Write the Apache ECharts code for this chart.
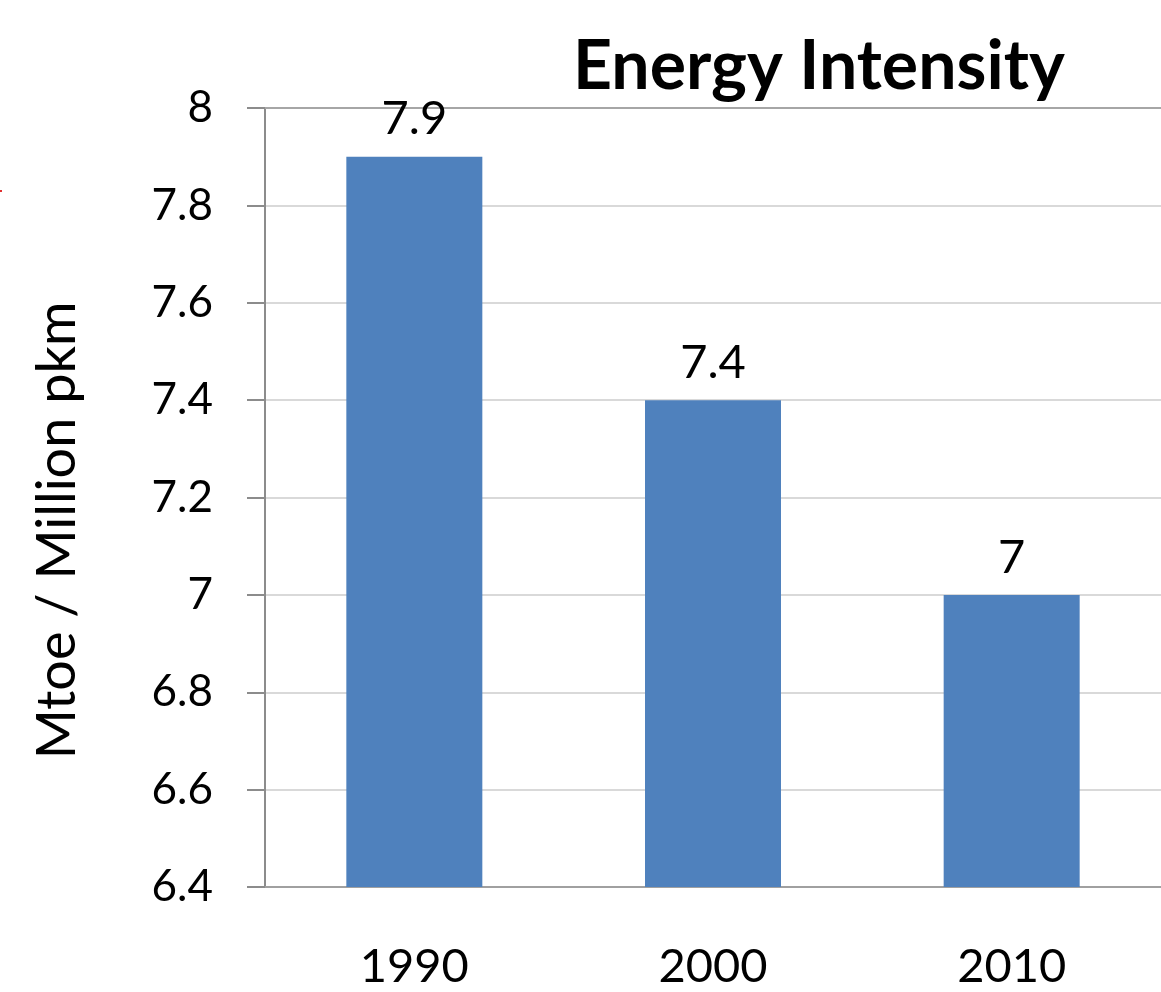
<!DOCTYPE html>
<html>
<head>
    <meta charset="utf-8">
    <title>Energy Intensity</title>
    <script src="https://cdn.jsdelivr.net/npm/echarts@6.0.0/dist/echarts.min.js"></script>
    <style>
        html, body { margin: 0; padding: 0; background: #fff; }
        #chart { width: 1161px; height: 992px; }
    </style>
</head>
<body>
    <div id="chart"></div>
    <script>
        // data
        const years = ['1990', '2000', '2010'];
        const intensity = [7.9, 7.4, 7];

        const FONT = 'Lato';
        const chart = echarts.init(document.getElementById('chart'));

        chart.setOption({
            animation: false,
            title: {
                text: 'Energy Intensity',
                left: 568,
                top: 28,
                textStyle: { fontFamily: FONT, fontWeight: 'bold', fontSize: 68, color: '#000' }
            },
            grid: { left: 265, top: 108, width: 902, height: 779, containLabel: false },
            xAxis: [{
                type: 'category',
                data: years,
                axisLine: { lineStyle: { color: '#a0a0a0', width: 2 } },
                axisTick: { show: false },
                axisLabel: { fontFamily: FONT, fontSize: 47, color: '#000', margin: 56 }
            }, {
                // top border of the plot
                type: 'category',
                position: 'top',
                data: years,
                axisLine: { lineStyle: { color: '#a6a6a6', width: 2 } },
                axisTick: { show: false },
                axisLabel: { show: false }
            }],
            yAxis: {
                type: 'value',
                min: 6.4,
                max: 8,
                interval: 0.2,
                name: 'Mtoe / Million pkm',
                nameLocation: 'middle',
                nameGap: 180,
                nameTextStyle: { fontFamily: FONT, fontSize: 54, color: '#000', padding: [0, 66, 0, 0] },
                axisLine: { show: true, lineStyle: { color: '#8c8c8c', width: 2 } },
                axisTick: { show: true, length: 18, lineStyle: { color: '#8c8c8c', width: 2 } },
                axisLabel: { fontFamily: FONT, fontSize: 44, color: '#000', margin: 52 },
                splitLine: { lineStyle: { color: '#d9d9d9', width: 2 } }
            },
            series: [{
                type: 'bar',
                data: intensity,
                barWidth: 136,
                itemStyle: { color: '#4f81bd' },
                label: {
                    show: true,
                    position: 'top',
                    distance: 14,
                    fontFamily: FONT,
                    fontSize: 47,
                    color: '#000'
                }
            }],
            graphic: [{
                type: 'rect',
                shape: { x: 0, y: 190, width: 2, height: 2 },
                style: { fill: '#e03030' }
            }]
        });
    </script>
</body>
</html>
